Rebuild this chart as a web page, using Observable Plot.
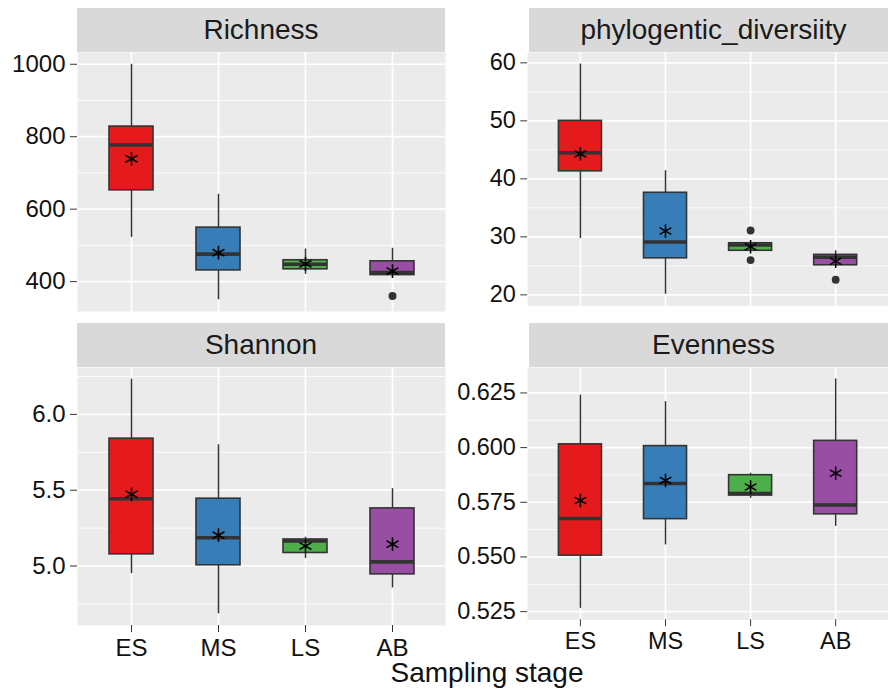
<!DOCTYPE html>
<html>
<head>
<meta charset="utf-8">
<script src="https://cdn.jsdelivr.net/npm/d3@7"></script>
<script src="https://cdn.jsdelivr.net/npm/@observablehq/plot@0.6"></script>
<style>
  body { margin: 0; background: #fff; font-family: "Liberation Sans", Arial, sans-serif; }
  #root { position: relative; width: 888px; height: 697px; overflow: hidden; background: #fff; }
  .strip { position: absolute; background: #D9D9D9; color: #1A1A1A; font-size: 28px;
           display: flex; align-items: center; justify-content: center; white-space: nowrap; }
  .panel { position: absolute; }
  .xtitle { position: absolute; font-size: 28px; line-height: 28px; color: #111; white-space: nowrap; transform: translateX(-50%); }
</style>
</head>
<body>
<div id="root"></div>
<script>
// ---------- data ----------
const stages = ["ES", "MS", "LS", "AB"];
const stageColors = ["#E41A1C", "#377EB8", "#4DAF4A", "#984EA3"];
const xTitle = "Sampling stage";

// Richness
const richnessLower  = [522, 350, 420, 418];
const richnessQ1     = [652, 431, 434, 418];
const richnessMedian = [777, 476, 448, 425];
const richnessQ3     = [828, 549, 459, 456];
const richnessUpper  = [1000, 641, 490, 492];
const richnessMean   = [739, 480, 449, 429];
const richnessOutStage = ["AB"];
const richnessOutValue = [360];
const richnessTicks = [400, 600, 800, 1000];
const richnessMinor = [500, 700, 900];

// phylogentic_diversiity
const phyloLower  = [29.7, 20.1, 27.6, 25.1];
const phyloQ1     = [41.3, 26.3, 27.6, 25.1];
const phyloMedian = [44.5, 29.1, 28.6, 26.5];
const phyloQ3     = [50.0, 37.6, 28.9, 26.9];
const phyloUpper  = [59.8, 41.4, 28.9, 27.6];
const phyloMean   = [44.3, 31.0, 28.3, 25.8];
const phyloOutStage = ["LS", "LS", "AB"];
const phyloOutValue = [31.1, 26.0, 22.6];
const phyloTicks = [20, 30, 40, 50, 60];
const phyloMinor = [25, 35, 45, 55];

// Shannon
const shannonLower  = [4.95, 4.685, 5.05, 4.855];
const shannonQ1     = [5.077, 5.005, 5.086, 4.945];
const shannonMedian = [5.444, 5.186, 5.165, 5.027];
const shannonQ3     = [5.84, 5.444, 5.175, 5.38];
const shannonUpper  = [6.232, 5.80, 5.19, 5.51];
const shannonMean   = [5.473, 5.203, 5.132, 5.144];
const shannonOutStage = [];
const shannonOutValue = [];
const shannonTicks = [5.0, 5.5, 6.0];
const shannonMinor = [4.75, 5.25, 5.75, 6.25];

// Evenness
const evenLower  = [0.5265, 0.5555, 0.5768, 0.564];
const evenQ1     = [0.5506, 0.5673, 0.5781, 0.5695];
const evenMedian = [0.5676, 0.5836, 0.5790, 0.5738];
const evenQ3     = [0.6015, 0.6007, 0.5874, 0.6031];
const evenUpper  = [0.624, 0.621, 0.5883, 0.6314];
const evenMean   = [0.5758, 0.585, 0.582, 0.5883];
const evenOutStage = [];
const evenOutValue = [];
const evenTicks = [0.525, 0.550, 0.575, 0.600, 0.625];
const evenMinor = [0.5375, 0.5625, 0.5875, 0.6125];

// ---------- build ----------
function rowsOf(lower, q1, median, q3, upper, mean) {
  return stages.map((s, i) => ({stage: s, lower: lower[i], q1: q1[i], median: median[i], q3: q3[i], upper: upper[i], mean: mean[i]}));
}
function outsOf(st, val) { return st.map((s, i) => ({stage: s, value: val[i]})); }

const panels = [
  {title: "Richness", rows: rowsOf(richnessLower, richnessQ1, richnessMedian, richnessQ3, richnessUpper, richnessMean),
   outs: outsOf(richnessOutStage, richnessOutValue), ticks: richnessTicks, minor: richnessMinor, fmt: d3.format("d"),
   col: 0, row: 0},
  {title: "phylogentic_diversiity", rows: rowsOf(phyloLower, phyloQ1, phyloMedian, phyloQ3, phyloUpper, phyloMean),
   outs: outsOf(phyloOutStage, phyloOutValue), ticks: phyloTicks, minor: phyloMinor, fmt: d3.format("d"),
   col: 1, row: 0},
  {title: "Shannon", rows: rowsOf(shannonLower, shannonQ1, shannonMedian, shannonQ3, shannonUpper, shannonMean),
   outs: outsOf(shannonOutStage, shannonOutValue), ticks: shannonTicks, minor: shannonMinor, fmt: d3.format(".1f"),
   col: 0, row: 1},
  {title: "Evenness", rows: rowsOf(evenLower, evenQ1, evenMedian, evenQ3, evenUpper, evenMean),
   outs: outsOf(evenOutStage, evenOutValue), ticks: evenTicks, minor: evenMinor, fmt: d3.format(".3f"),
   col: 1, row: 1}
];

// layout (pixels)
const colLayout = [
  {svgLeft: 0, svgWidth: 445, marginLeft: 77},
  {svgLeft: 443, svgWidth: 455, marginLeft: 86}
];
const rowLayout = [
  {stripTop: 8, panelTop: 52, panelH: 259, showX: false},
  {stripTop: 323, panelTop: 367, panelH: 258, showX: true}
];
const stripH = 44;

const root = document.getElementById("root");

for (const p of panels) {
  const cl = colLayout[p.col], rl = rowLayout[p.row];
  const lo = d3.min([...p.rows.map(r => r.lower), ...p.outs.map(o => o.value)]);
  const hi = d3.max([...p.rows.map(r => r.upper), ...p.outs.map(o => o.value)]);
  const pad = (hi - lo) * 0.05;

  const marginBottom = rl.showX ? 34 : 0;
  const marks = [
    Plot.frame({fill: "#EBEBEB", stroke: null}),
    Plot.ruleY(p.minor, {stroke: "#FFFFFF", strokeWidth: 0.8}),
    Plot.ruleY(p.ticks, {stroke: "#FFFFFF", strokeWidth: 1.7}),
    Plot.ruleX(stages, {x: d => d, stroke: "#FFFFFF", strokeWidth: 1.7}),
    Plot.ruleX(p.rows, {x: "stage", y1: "lower", y2: "upper", stroke: "#333333", strokeWidth: 1.5}),
    Plot.barY(p.rows, {x: "stage", y1: "q1", y2: "q3", fill: "stage", stroke: "#333333", strokeWidth: 1.6}),
    Plot.tickY(p.rows, {x: "stage", y: "median", stroke: "#333333", strokeWidth: 3.6}),
    Plot.dot(p.outs, {x: "stage", y: "value", r: 4, fill: "#333333", stroke: null}),
    Plot.dot(p.rows, {x: "stage", y: "mean", symbol: "asterisk", r: 6.5, stroke: "#000000", strokeWidth: 1.6}),
    Plot.axisY(p.ticks, {tickSize: 7, tickPadding: 5, tickFormat: p.fmt, fontSize: 24, stroke: "#333333", fill: "#111111", label: null})
  ];
  if (rl.showX) {
    marks.push(Plot.axisX({tickSize: 7, tickPadding: 6, fontSize: 24, stroke: "#333333", fill: "#111111", label: null}));
  }

  const chart = Plot.plot({
    width: cl.svgWidth,
    height: rl.panelH + marginBottom,
    marginLeft: cl.marginLeft,
    marginRight: 0,
    marginTop: 0,
    marginBottom,
    style: {fontFamily: "'Liberation Sans', Arial, sans-serif", background: "transparent", overflow: "visible"},
    x: {type: "band", domain: stages, paddingInner: 0.5, paddingOuter: 0.35, ...(rl.showX ? {} : {axis: null})},
    y: {domain: [lo - pad, hi + pad]},
    color: {domain: stages, range: stageColors},
    marks
  });
  const wrap = document.createElement("div");
  wrap.className = "panel";
  wrap.style.left = cl.svgLeft + "px";
  wrap.style.top = rl.panelTop + "px";
  wrap.appendChild(chart);
  root.appendChild(wrap);

  const strip = document.createElement("div");
  strip.className = "strip";
  strip.style.left = (cl.svgLeft + cl.marginLeft) + "px";
  strip.style.width = (cl.svgWidth - cl.marginLeft) + "px";
  strip.style.top = rl.stripTop + "px";
  strip.style.height = stripH + "px";
  strip.textContent = p.title;
  root.appendChild(strip);
}

const t = document.createElement("div");
t.className = "xtitle";
t.style.left = "487px";
t.style.top = "659px";
t.textContent = xTitle;
root.appendChild(t);
</script>
</body>
</html>
